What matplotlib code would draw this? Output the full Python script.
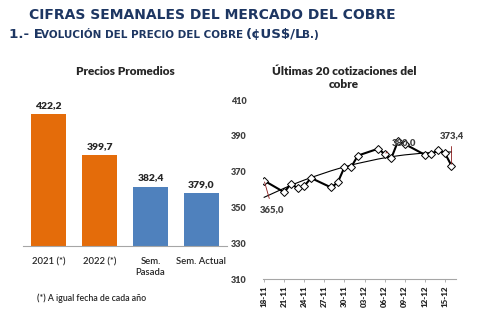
import numpy as np
import pandas as pd
import matplotlib
matplotlib.use("Agg")
import matplotlib.pyplot as plt
import matplotlib.dates as mdates

plt.rcParams["font.family"] = ["Lato", "DejaVu Sans"]

# ---- data ----
bar_labels = ["2021 (*)", "2022 (*)", "Sem.\nPasada", "Sem. Actual"]
bar_values = [422.2, 399.7, 382.4, 379.0]
bar_texts = ["422,2", "399,7", "382,4", "379,0"]

quote_dates = ["2022-11-18", "2022-11-21", "2022-11-22", "2022-11-23", "2022-11-24",
               "2022-11-25", "2022-11-28", "2022-11-29", "2022-11-30", "2022-12-01",
               "2022-12-02", "2022-12-05", "2022-12-06", "2022-12-07", "2022-12-08",
               "2022-12-09", "2022-12-12", "2022-12-13", "2022-12-14", "2022-12-15",
               "2022-12-16"]
quote_values = [365.0, 358.5, 363.3, 360.8, 362.0, 366.5, 361.2, 364.0, 372.5, 372.5,
                379.0, 382.8, 380.0, 377.5, 387.0, 385.5, 379.5, 380.0, 382.0, 380.5,
                373.4]
# labelled points: (index, text, offset in points)
point_labels = [(0, "365,0", (6, -21)), (12, "380,0", (14, 8)), (20, "373,4", (0, 22))]

navy = "#1d3662"
orange = "#e46c0a"
blue = "#4f81bd"
txt = "#262626"

fig = plt.figure(figsize=(4.91, 3.23), dpi=100, facecolor="white")

# ---- header ----
fig.text(0.059, 0.955, "CIFRAS SEMANALES DEL MERCADO DEL COBRE", fontsize=10,
         fontweight="bold", color=navy, va="center", ha="left", family="DejaVu Sans")

# small caps subtitle built from pieces
pieces = [("1.- E", 9.6), ("VOLUCIÓN DEL PRECIO DEL COBRE ", 7.5), ("(¢US$/L", 9.6), ("B.)", 7.5)]
fig.canvas.draw()
renderer = fig.canvas.get_renderer()
x_px = 0.018 * 491
for s, size in pieces:
    t = fig.text(x_px / 491, 0.882, s, fontsize=size, fontweight="bold",
                 color=navy, va="baseline", ha="left", family="DejaVu Sans")
    x_px += t.get_window_extent(renderer).width - 1.5

# ---- left: average prices ----
ax1 = fig.add_axes([0.047, 0.238, 0.415, 0.452])
xpos = np.arange(len(bar_values))
colors = [orange, orange, blue, blue]
ax1.bar(xpos, bar_values, width=0.70, color=colors, bottom=0)
ax1.set_ylim(350, 430)
ax1.set_xlim(-0.5, 3.5)
for x, v, s in zip(xpos, bar_values, bar_texts):
    ax1.text(x, v + 2.5, s, ha="center", va="bottom", fontsize=7.5,
             fontweight="heavy", color=txt)
ax1.set_xticks(xpos)
ax1.set_xticklabels(bar_labels, fontsize=6.8, color=txt, va="top", linespacing=1.3,
                    fontweight="semibold")
ax1.tick_params(axis="x", length=0, pad=8)
ax1.set_yticks([])
for sp in ["top", "right", "left"]:
    ax1.spines[sp].set_visible(False)
ax1.spines["bottom"].set_color("#a6a6a6")
ax1.set_title("Precios Promedios", fontsize=8.5, fontweight="heavy", color=txt, pad=18)
fig.text(0.075, 0.077, "(*) A igual fecha de cada año", fontsize=6.3, color=txt,
         ha="left", va="center", fontweight="semibold")

# ---- right: last quotes ----
ax2 = fig.add_axes([0.536, 0.136, 0.393, 0.554])
dates = mdates.date2num(pd.to_datetime(quote_dates))
vals = np.array(quote_values)

# polynomial trend line fitted to the quotes
coef = np.polyfit(dates - dates[0], vals, 2)
trend = np.polyval(coef, dates - dates[0])
ax2.plot(dates, trend, color="black", lw=0.8, zorder=2)
ax2.plot(dates, vals, color="black", lw=1.5, marker="D", markersize=3.8,
         markerfacecolor="white", markeredgecolor="black", markeredgewidth=0.7, zorder=3)

for i, s, off in point_labels:
    ax2.annotate(s, (dates[i], vals[i]), xytext=off, textcoords="offset points",
                 ha="center", va="center", fontsize=6.8, fontweight="heavy", color="#404040",
                 arrowprops=dict(arrowstyle="-", color="#8b1a1a", lw=0.6,
                                 shrinkA=3, shrinkB=1), zorder=4)

ax2.set_ylim(310, 410)
ax2.set_yticks(np.arange(310, 411, 20))
ax2.set_xlim(dates[0] - 0.15, dates[-1] + 0.7)
ticks = np.arange(dates[0], dates[-1] + 0.5, 3)
ax2.set_xticks(ticks)
ax2.xaxis.set_major_formatter(mdates.DateFormatter("%d-%m"))
ax2.tick_params(axis="x", rotation=90, labelsize=5.8, length=2.5, width=0.6,
                color="#a6a6a6", labelcolor=txt, pad=2)
for lbl in ax2.get_xticklabels():
    lbl.set_fontweight("heavy")
ax2.tick_params(axis="y", labelsize=6.5, length=0, labelcolor="#404040", pad=12)
for lbl in ax2.get_yticklabels():
    lbl.set_fontweight("heavy")
for sp in ["top", "right", "left"]:
    ax2.spines[sp].set_visible(False)
ax2.spines["bottom"].set_color("#a6a6a6")
ax2.set_title("Últimas 20 cotizaciones del\ncobre", fontsize=8.5, fontweight="heavy",
              color=txt, pad=9, x=0.42, linespacing=1.2)

fig.savefig("out.png", dpi=100, facecolor="white")
